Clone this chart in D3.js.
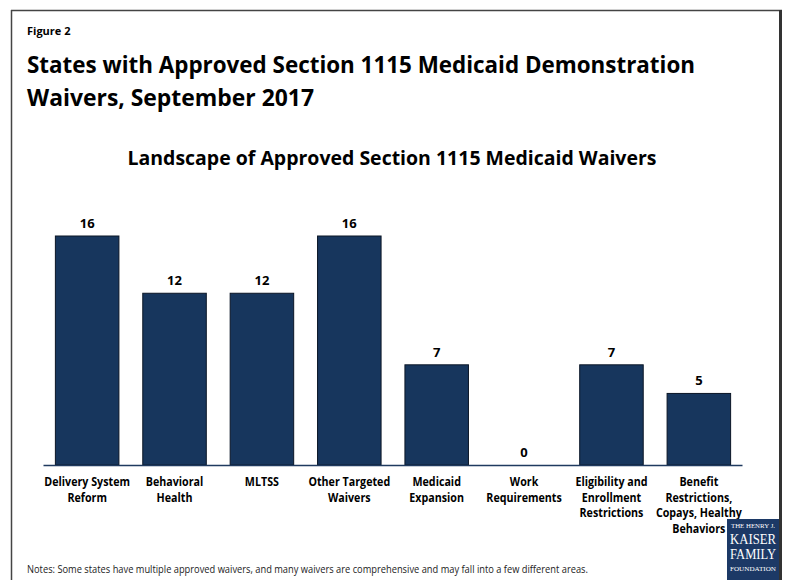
<!DOCTYPE html>
<html>
<head>
<meta charset="utf-8">
<script src="https://cdn.jsdelivr.net/npm/d3@7"></script>
<style>
  html, body { margin: 0; padding: 0; background: #fff; }
  svg text { font-family: "Open Sans", "Noto Sans", sans-serif; }
</style>
</head>
<body>
<div id="chart"></div>
<script>
// values
const categories = [
  ["Delivery System", "Reform"],
  ["Behavioral", "Health"],
  ["MLTSS"],
  ["Other Targeted", "Waivers"],
  ["Medicaid", "Expansion"],
  ["Work", "Requirements"],
  ["Eligibility and", "Enrollment", "Restrictions"],
  ["Benefit", "Restrictions,", "Copays, Healthy", "Behaviors"]
];
const counts = [16, 12, 12, 16, 7, 0, 7, 5];
const titleLines = [
  "States with Approved Section 1115 Medicaid Demonstration",
  "Waivers, September 2017"
];
const subtitle = "Landscape of Approved Section 1115 Medicaid Waivers";
const note = "Notes: Some states have multiple approved waivers, and many waivers are comprehensive and may fall into a few different areas.";

const width = 785, height = 580;
const navy = "#17365d";

const svg = d3.select("#chart").append("svg")
  .attr("width", width)
  .attr("height", height);

// set a text to a given width (Calibri-like narrow look)
function fit(sel, w) {
  sel.attr("textLength", w).attr("lengthAdjust", "spacingAndGlyphs");
  return sel;
}

// frame
svg.append("line").attr("x1", 11).attr("x2", 782).attr("y1", 10.5).attr("y2", 10.5)
  .attr("stroke", "#444").attr("stroke-width", 1.5);
svg.append("line").attr("x1", 11.5).attr("x2", 11.5).attr("y1", 10).attr("y2", height)
  .attr("stroke", "#444").attr("stroke-width", 1.5);
svg.append("line").attr("x1", 780.5).attr("x2", 780.5).attr("y1", 10).attr("y2", height)
  .attr("stroke", "#333").attr("stroke-width", 3);

svg.append("text").attr("x", 27).attr("y", 35)
  .attr("font-size", 11).attr("font-weight", 700).text("Figure 2");

titleLines.forEach((t, i) => {
  const el = svg.append("text").attr("x", 27).attr("y", 73 + i * 33)
    .attr("font-size", 24).attr("font-weight", 700).attr("fill", "#000").text(t);
  fit(el, i === 0 ? 668 : 287);
});

fit(svg.append("text").attr("x", 392).attr("y", 165).attr("text-anchor", "middle")
  .attr("font-size", 19).attr("font-weight", 700).text(subtitle), 529);

// scales
const x = d3.scaleBand()
  .domain(d3.range(counts.length))
  .range([43.5, 742.5])
  .paddingInner(0.273)
  .paddingOuter(0.136);

const y = d3.scaleLinear()
  .domain([0, 16])
  .range([465, 236]);

svg.append("g").selectAll("rect")
  .data(counts)
  .join("rect")
  .attr("x", (d, i) => x(i))
  .attr("y", d => y(d))
  .attr("width", x.bandwidth())
  .attr("height", d => y(0) - y(d))
  .attr("fill", navy)
  .attr("stroke", "#0b1626")
  .attr("stroke-width", 1);

svg.append("g").selectAll("text")
  .data(counts)
  .join("text")
  .attr("x", (d, i) => x(i) + x.bandwidth() / 2)
  .attr("y", d => y(d) - 8)
  .attr("text-anchor", "middle")
  .attr("font-size", 13)
  .attr("font-weight", 700)
  .text(d => d);

// baseline
svg.append("line")
  .attr("x1", x.range()[0]).attr("x2", x.range()[1])
  .attr("y1", y(0) + 0.5).attr("y2", y(0) + 0.5)
  .attr("stroke", "#1f3a5f").attr("stroke-width", 1.5);

// category labels
const catG = svg.append("g");
categories.forEach((lines, i) => {
  lines.forEach((ln, j) => {
    const el = catG.append("text")
      .attr("x", x(i) + x.bandwidth() / 2)
      .attr("y", 486 + j * 15.7)
      .attr("text-anchor", "middle")
      .attr("font-size", 11.5)
      .attr("font-weight", 700)
      .text(ln);
    fit(el, el.node().getComputedTextLength() * 0.93);
  });
});

fit(svg.append("text").attr("x", 27).attr("y", 573)
  .attr("font-size", 10).attr("fill", "#222").text(note), 561);

// logo
const logo = svg.append("g").attr("transform", "translate(727,519)");
logo.append("rect").attr("width", 52).attr("height", 61).attr("fill", "#1c3966");
const logoText = [["THE HENRY J.", 6.5, 9, 44], ["KAISER", 15, 25, 46], ["FAMILY", 15, 40, 46], ["FOUNDATION", 6, 52, 46]];
logoText.forEach(([t, s, yy, w]) => {
  fit(logo.append("text").attr("x", 26).attr("y", yy).attr("text-anchor", "middle")
    .attr("style", "font-family: 'Liberation Serif', serif")
    .attr("font-size", s).attr("fill", "#fff").text(t), w);
});
</script>
</body>
</html>
